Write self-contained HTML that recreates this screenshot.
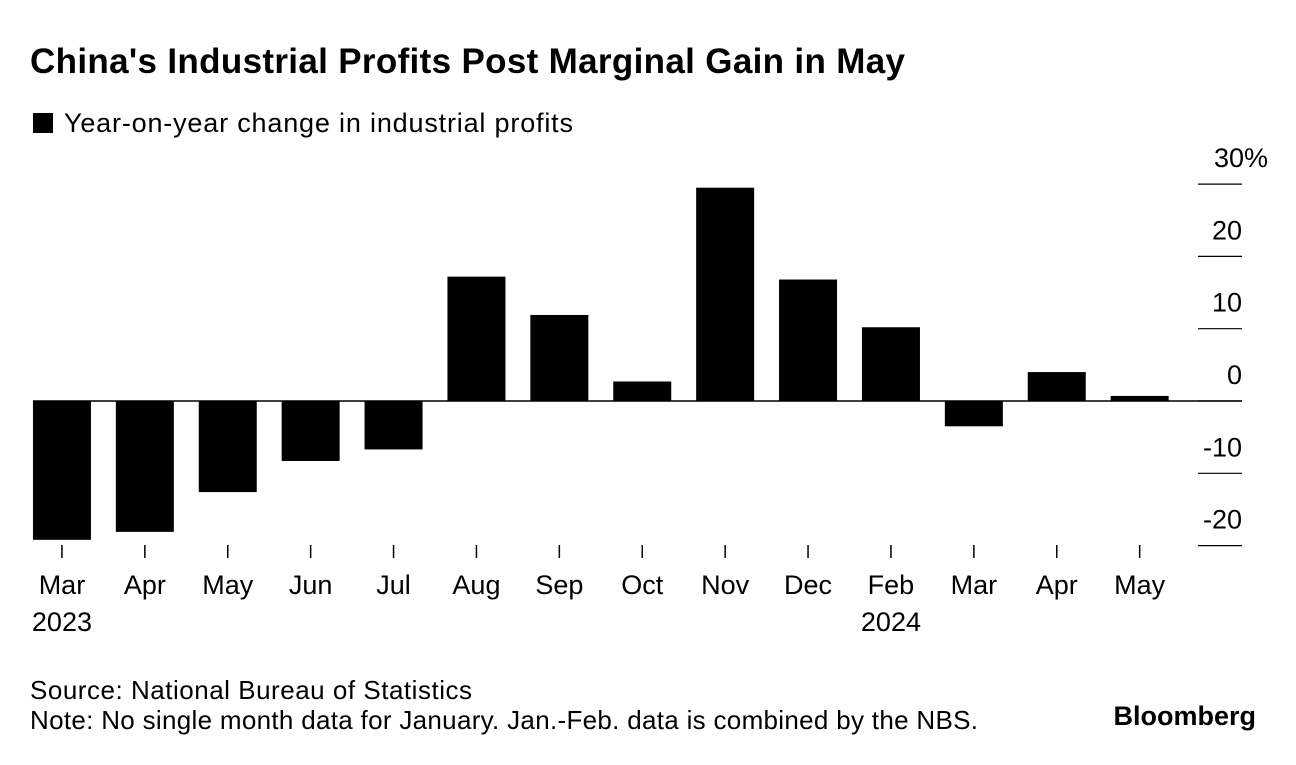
<!DOCTYPE html>
<html><head><meta charset="utf-8"><style>
body{margin:0;background:#fff;font-family:"Liberation Sans",Arial,sans-serif;}
svg text{font-family:"Liberation Sans",Arial,sans-serif;fill:#000;}
</style></head><body>
<svg width="1296" height="760" xmlns="http://www.w3.org/2000/svg">
<text x="30" y="73" font-size="35" font-weight="bold" textLength="875">China's Industrial Profits Post Marginal Gain in May</text>
<rect x="33" y="113" width="20" height="20" fill="#000"/>
<text x="64" y="132" font-size="27" textLength="509">Year-on-year change in industrial profits</text>
<g id="plot"></g>
<text x="30" y="699" font-size="26" textLength="442">Source: National Bureau of Statistics</text>
<text x="30" y="729" font-size="26" textLength="948">Note: No single month data for January. Jan.-Feb. data is combined by the NBS.</text>
<text x="1256" y="725" font-size="27" font-weight="bold" text-anchor="end">Bloomberg</text>
</svg>
<script>
const categories=["Mar","Apr","May","Jun","Jul","Aug","Sep","Oct","Nov","Dec","Feb","Mar","Apr","May"];
const years=["2023","","","","","","","","","","2024","","",""];
const values=[-19.2,-18.1,-12.6,-8.3,-6.7,17.2,11.9,2.7,29.5,16.8,10.2,-3.5,4.0,0.7];
const yTicks=[30,20,10,0,-10,-20];
const yTickLabels=["30%","20","10","0","-10","-20"];
const NS="http://www.w3.org/2000/svg";
const g=document.getElementById('plot');
const y0=401, ppu=7.23;
const yScale=v=>y0-v*ppu;
const bandStart=20.5, band=82.9, bw=58;
const xCenter=i=>bandStart+band*(i+0.5);
function el(t,a){const e=document.createElementNS(NS,t);for(const k in a)e.setAttribute(k,a[k]);g.appendChild(e);return e;}
yTicks.forEach((t,i)=>{
  const y=yScale(t);
  const l=el('line',{x1:1198,x2:1242,y1:y,y2:y,stroke:'#000','stroke-width':1.2});
  
  
  const tx=el('text',{x:i==0?1268:1242,y:y-17,'font-size':27,'text-anchor':'end'});
  tx.textContent=yTickLabels[i];
  
  
});
values.forEach((v,i)=>{
  const cx=xCenter(i);
  const top=Math.min(yScale(v),y0), h=Math.abs(yScale(v)-y0);
  const r=el('rect',{x:cx-bw/2,y:top,width:bw,height:h,fill:'#000'});
  
  
  const tk=el('line',{x1:cx,x2:cx,y1:545,y2:558,stroke:'#000','stroke-width':1.5});
  
  
  const t=el('text',{x:cx,y:594,'font-size':27,'text-anchor':'middle'});
  t.textContent=categories[i];
  
  
  if(years[i]){
    const ty=el('text',{x:cx,y:631,'font-size':27,'text-anchor':'middle'});
    ty.textContent=years[i];
    
    
  }
});
const z=el('line',{x1:33,x2:1242,y1:y0,y2:y0,stroke:'#000','stroke-width':1.5});


</script>
</body></html>
